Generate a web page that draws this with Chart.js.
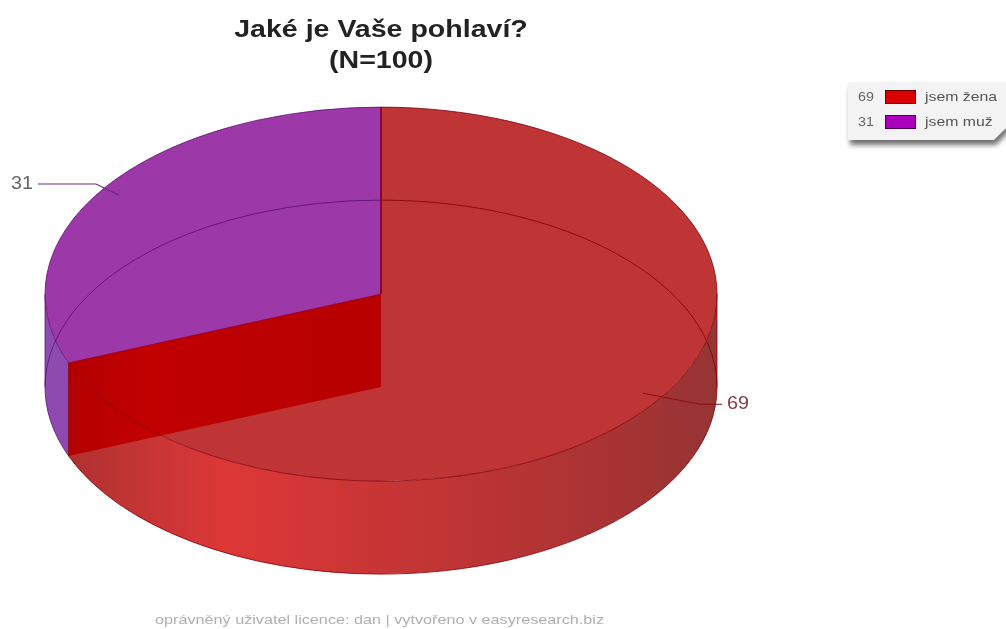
<!DOCTYPE html>
<html><head><meta charset="utf-8">
<style>html,body{margin:0;padding:0;background:#fff}canvas{display:block}</style>
<script src="https://cdn.jsdelivr.net/npm/chart.js@4"></script></head>
<body><canvas id="c" width="1006" height="629"></canvas>
<script>
const categories = ['jsem žena', 'jsem muž'];
const values = [69, 31];
const topColors = ['#bf3535', '#9c38a8'];
const swatchColors = ['#dd0000', '#aa00bb'];
const swatchBorders = ['#6a0000', '#4a0058'];
const titleLines = ['Jaké je Vaše pohlaví?', '(N=100)'];
const footerText = 'oprávněný uživatel licence: dan | vytvořeno v easyresearch.biz';

const SQUASH = 187 / 336, DEPTH = 93;

function wideText(ctx, text, x, y, sx) {
  ctx.save();
  ctx.translate(x, y);
  ctx.scale(sx, 1);
  ctx.fillText(text, 0, 0);
  ctx.restore();
}

const pie3d = {
  id: 'pie3d',
  beforeDraw(chart) {
    // the reference's title is horizontally widened
    const t = chart.titleBlock;
    if (t && !t._wide) {
      const d = t.draw;
      t.draw = function () {
        const c = chart.ctx, mid = chart.getDatasetMeta(0).data[0].x;
        c.save(); c.translate(mid, 0); c.scale(1.165, 1); c.translate(-mid, 0);
        d.call(t);
        c.restore();
      };
      t._wide = true;
    }
  },
  beforeDatasetsDraw(chart) {
    const ctx = chart.ctx, arcs = chart.getDatasetMeta(0).data;
    const {x: cx, y: cy, outerRadius: R} = arcs[0];
    const ry = R * SQUASH;
    const stops = [
      [[0, '#a82f2f'], [0.12, '#c03434'], [0.27, '#dd3737'], [0.55, '#c43535'], [0.85, '#a83333'], [1, '#963434']],
      [[0, '#8f4ab0'], [1, '#8444a4']]
    ];
    arcs.forEach((a, i) => {
      const s = Math.max(a.startAngle, 0), e = Math.min(a.endAngle, Math.PI);
      if (e <= s) return;
      const g = ctx.createLinearGradient(cx - R, 0, cx + R, 0);
      stops[i].forEach(p => g.addColorStop(p[0], p[1]));
      ctx.save();
      ctx.beginPath();
      ctx.ellipse(cx, cy, R, ry, 0, s, e);
      ctx.ellipse(cx, cy + DEPTH, R, ry, 0, e, s, true);
      ctx.closePath();
      ctx.fillStyle = g;
      ctx.fill();
      ctx.restore();
    });
  },
  beforeDatasetDraw(chart) {
    const ctx = chart.ctx, a = chart.getDatasetMeta(0).data[0];
    ctx.save();
    ctx.translate(a.x, a.y);
    ctx.scale(1, SQUASH);
    ctx.translate(-a.x, -a.y);
  },
  afterDatasetDraw(chart) { chart.ctx.restore(); },
  afterDatasetsDraw(chart) {
    const ctx = chart.ctx, arcs = chart.getDatasetMeta(0).data;
    const {x: cx, y: cy, outerRadius: R} = arcs[0];
    const ry = R * SQUASH;
    const end = arcs[0].endAngle;
    const ex = cx + R * Math.cos(end), ey = cy + ry * Math.sin(end);

    ctx.save();
    // inner cut wall
    const ig = ctx.createLinearGradient(ex, 0, cx, 0);
    ig.addColorStop(0, '#b40000');
    ig.addColorStop(0.25, '#c20000');
    ig.addColorStop(0.5, '#bc0000');
    ig.addColorStop(1, '#b80000');
    ctx.beginPath();
    ctx.moveTo(cx, cy); ctx.lineTo(ex, ey); ctx.lineTo(ex, ey + DEPTH); ctx.lineTo(cx, cy + DEPTH);
    ctx.closePath();
    ctx.fillStyle = ig; ctx.fill();

    // outlines, per slice
    const edge = ['rgba(130,0,10,0.8)', 'rgba(90,10,110,0.75)'];
    ctx.lineWidth = 1;
    arcs.forEach((a, i) => {
      ctx.strokeStyle = edge[i];
      ctx.beginPath(); ctx.ellipse(cx, cy + DEPTH, R, ry, 0, a.startAngle, a.endAngle); ctx.stroke();
      ctx.beginPath(); ctx.ellipse(cx, cy, R, ry, 0, a.startAngle, a.endAngle); ctx.stroke();
    });
    ctx.strokeStyle = edge[1];
    ctx.beginPath(); ctx.moveTo(cx - R, cy); ctx.lineTo(cx - R, cy + DEPTH); ctx.stroke();
    ctx.strokeStyle = edge[0];
    ctx.beginPath();
    ctx.moveTo(cx + R, cy); ctx.lineTo(cx + R, cy + DEPTH);
    ctx.moveTo(ex, ey); ctx.lineTo(ex, ey + DEPTH);
    ctx.stroke();
    ctx.strokeStyle = '#98002c';
    ctx.beginPath(); ctx.moveTo(ex, ey); ctx.lineTo(cx, cy); ctx.stroke();
    ctx.lineWidth = 2;
    ctx.strokeStyle = '#8a0035';
    ctx.beginPath(); ctx.moveTo(cx, cy - ry); ctx.lineTo(cx, cy); ctx.stroke();

    // callouts
    const lineCols = ['#8a1020', '#6a2a80'], textCols = ['#7d3f48', '#666666'];
    ctx.font = '18px "Liberation Sans", Arial, sans-serif';
    ctx.textBaseline = 'middle';
    arcs.forEach((a, i) => {
      const mid = (a.startAngle + a.endAngle) / 2;
      const px = cx + 0.943 * R * Math.cos(mid), py = cy + 0.943 * ry * Math.sin(mid);
      const dir = Math.cos(mid) >= 0 ? 1 : -1;
      const ly = py + (dir > 0 ? 11 : -11);
      const ex1 = dir > 0 ? px + 57 : px - 23, ex2 = dir > 0 ? px + 79 : px - 81;
      ctx.strokeStyle = lineCols[i]; ctx.lineWidth = 1.2;
      ctx.beginPath(); ctx.moveTo(px, py); ctx.lineTo(ex1, ly); ctx.lineTo(ex2, ly); ctx.stroke();
      ctx.fillStyle = textCols[i];
      const label = String(values[i]), sx = 1.1;
      ctx.textAlign = 'left';
      const w = ctx.measureText(label).width * sx;
      wideText(ctx, label, dir > 0 ? ex2 + 5 : ex2 - 5 - w, ly, sx);
    });

    // legend box
    ctx.save();
    ctx.shadowColor = 'rgba(0,0,0,0.55)'; ctx.shadowBlur = 5; ctx.shadowOffsetX = 2; ctx.shadowOffsetY = 5;
    ctx.beginPath();
    ctx.moveTo(848, 82); ctx.lineTo(1006, 82); ctx.lineTo(1006, 128); ctx.lineTo(994, 140); ctx.lineTo(848, 140);
    ctx.closePath();
    ctx.fillStyle = '#f3f3f4'; ctx.fill();
    ctx.restore();
    ctx.font = '13px "Liberation Sans", Arial, sans-serif';
    ctx.textBaseline = 'middle'; ctx.textAlign = 'left';
    categories.forEach((c, i) => {
      const y = 97 + i * 25;
      ctx.fillStyle = '#666';
      wideText(ctx, String(values[i]), 858, y, 1.1);
      ctx.fillStyle = swatchColors[i]; ctx.strokeStyle = swatchBorders[i]; ctx.lineWidth = 1;
      ctx.fillRect(885, y - 7, 31, 14); ctx.strokeRect(885.5, y - 6.5, 30, 13);
      ctx.fillStyle = '#555';
      wideText(ctx, c, 925, y, 72 / ctx.measureText(categories[0]).width);
    });

    // footer
    ctx.font = '13px "Liberation Sans", Arial, sans-serif';
    ctx.fillStyle = '#b0b0b0'; ctx.textAlign = 'left';
    wideText(ctx, footerText, 155, 620, 449 / ctx.measureText(footerText).width);
    ctx.restore();
  }
};

new Chart(document.getElementById('c'), {
  type: 'pie',
  data: {labels: categories, datasets: [{data: values, backgroundColor: topColors, borderWidth: 0, clip: false}]},
  options: {
    responsive: false, animation: false, devicePixelRatio: 1,
    radius: 336,
    layout: {padding: {left: 0, right: 244, top: 0, bottom: 121}},
    events: [],
    plugins: {
      legend: {display: false}, tooltip: {enabled: false},
      title: {display: true, text: titleLines, fullSize: false, color: '#222',
        font: {family: '"Liberation Sans", Arial, sans-serif', size: 24.5, weight: 'bold', lineHeight: 1.27},
        padding: {top: 15, bottom: 3}}
    }
  },
  plugins: [pie3d]
});
</script></body></html>
